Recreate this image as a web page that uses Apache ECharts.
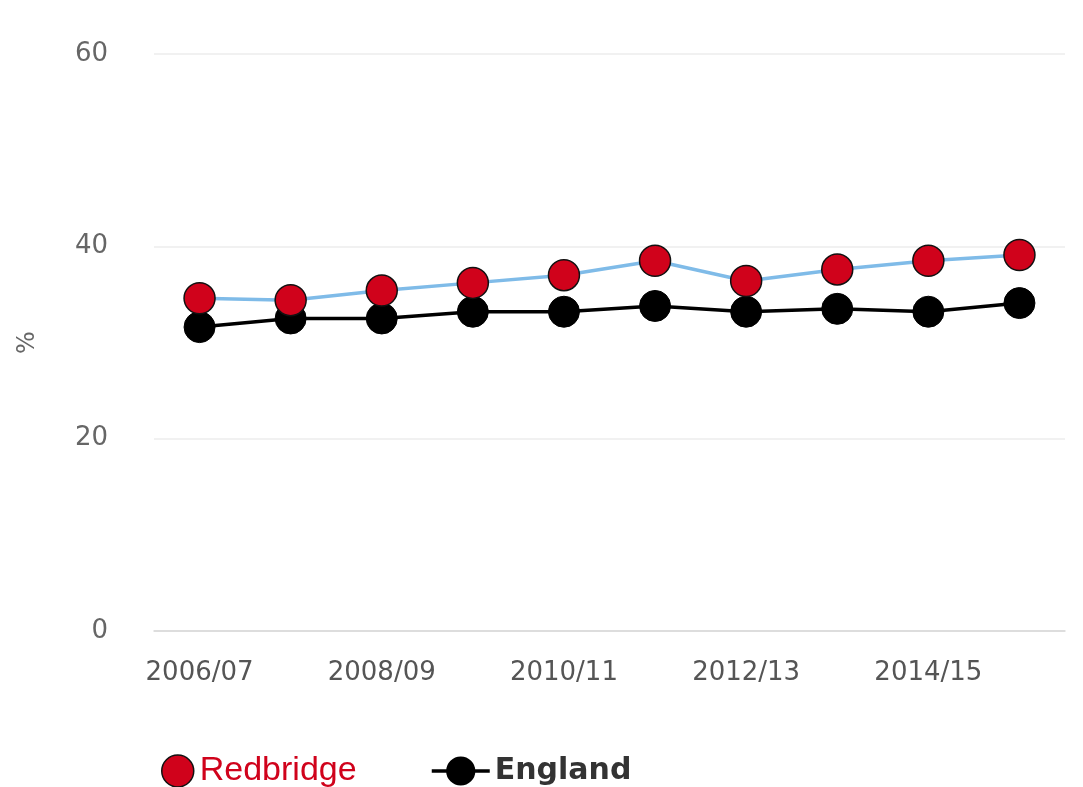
<!DOCTYPE html>
<html>
<head>
<meta charset="utf-8">
<script src="https://cdn.jsdelivr.net/npm/echarts@6/dist/echarts.min.js"></script>
<style>
html,body{margin:0;padding:0;background:#fff;}
#chart{width:1083px;height:787px;}
</style>
</head>
<body>
<div id="chart"></div>
<script>
const categories = ['2006/07','2007/08','2008/09','2009/10','2010/11','2011/12','2012/13','2013/14','2014/15','2015/16'];
const redbridge = [34.6, 34.4, 35.4, 36.2, 37.0, 38.5, 36.4, 37.6, 38.5, 39.1];
const england = [31.6, 32.5, 32.5, 33.2, 33.2, 33.8, 33.2, 33.5, 33.2, 34.1];
const yTicks = [0, 20, 40, 60];

const chart = echarts.init(document.getElementById('chart'));
chart.setOption({
  animation: false,
  backgroundColor: '#ffffff',
  grid: { left: 154, right: 18, top: 54, bottom: 156 },
  legend: [
    {
      top: 749,
      left: 156,
      itemWidth: 34,
      itemHeight: 32,
      itemGap: 10,
      data: [
        { name: 'Redbridge', icon: 'circle', itemStyle: { color: '#d0021b', borderColor: '#111', borderWidth: 1.5 },
          textStyle: { color: '#d0021b', fontSize: 34, fontFamily: 'Liberation Sans' } }
      ]
    },
    {
      top: 751,
      left: 425,
      itemWidth: 58,
      itemHeight: 34,
      data: [
        { name: 'England', lineStyle: { width: 3.5, color: '#000' },
          textStyle: { color: '#333', fontSize: 30, fontWeight: 'bold', fontFamily: 'DejaVu Sans' } }
      ]
    }
  ],
  xAxis: {
    type: 'category',
    data: categories,
    boundaryGap: true,
    axisLine: { show: true, lineStyle: { color: '#d6d6d6', width: 1.5 } },
    axisTick: { show: false },
    axisLabel: { interval: 1, color: '#555', fontSize: 26, fontFamily: 'DejaVu Sans', margin: 29 }
  },
  yAxis: {
    type: 'value',
    min: yTicks[0],
    max: yTicks[yTicks.length - 1],
    interval: 20,
    name: '%',
    nameLocation: 'middle',
    nameGap: 114,
    nameRotate: 90,
    nameTextStyle: { color: '#666', fontSize: 24, fontFamily: 'DejaVu Sans' },
    axisLine: { show: false },
    axisTick: { show: false },
    axisLabel: { color: '#666', fontSize: 26, fontFamily: 'DejaVu Sans', margin: 46 },
    splitLine: { show: true, lineStyle: { color: '#ececec', width: 1.5 } }
  },
  series: [
    {
      name: 'Redbridge',
      type: 'line',
      data: redbridge,
      symbol: 'circle',
      symbolSize: 31,
      lineStyle: { color: '#7fbbe8', width: 3.5 },
      itemStyle: { color: '#d0021b', borderColor: '#111', borderWidth: 1.5 },
      z: 3
    },
    {
      name: 'England',
      type: 'line',
      data: england,
      symbol: 'circle',
      symbolSize: 31,
      lineStyle: { color: '#000', width: 3.5 },
      itemStyle: { color: '#000', borderColor: '#000', borderWidth: 1 },
      z: 2
    }
  ]
});
</script>
</body>
</html>
